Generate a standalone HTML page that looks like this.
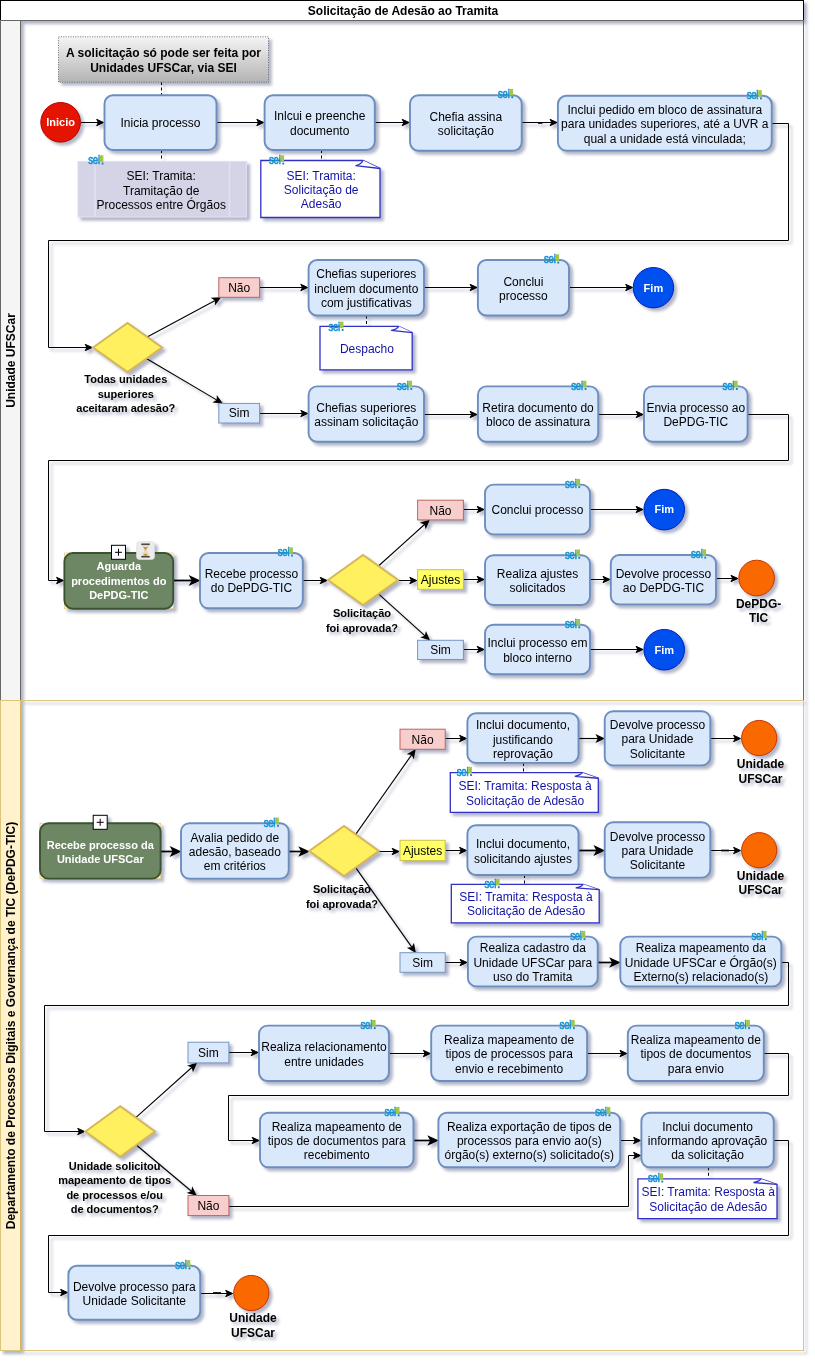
<!DOCTYPE html>
<html lang="pt-BR">
<head>
<meta charset="utf-8">
<title>Solicitação de Adesão ao Tramita</title>
<style>
html,body{margin:0;padding:0;background:#fff;}
body{width:815px;height:1362px;overflow:hidden;}
svg{display:block;font-family:'Liberation Sans', sans-serif;}
</style>
</head>
<body>
<svg width="815" height="1362" viewBox="0 0 815 1362">
<defs>
<filter id="ds" x="-5%" y="-5%" width="110%" height="110%" filterUnits="userSpaceOnUse" color-interpolation-filters="sRGB">
<feGaussianBlur in="SourceAlpha" stdDeviation="1.7" result="blur"/>
<feOffset in="blur" dx="3" dy="3" result="ob"/>
<feFlood flood-color="#3D4574" flood-opacity="0.4" result="oc"/>
<feComposite in="oc" in2="ob" operator="in" result="sh"/>
<feBlend in="SourceGraphic" in2="sh"/>
</filter>
<linearGradient id="gnote" x1="0" y1="0" x2="0" y2="1">
<stop offset="0" stop-color="#f5f5f5"/><stop offset="1" stop-color="#b3b3b3"/>
</linearGradient>
</defs>
<rect x="0" y="0" width="815" height="1362" fill="#fff"/>
<g filter="url(#ds)">
<rect x="0.5" y="0.5" width="803.0" height="20" fill="#fff" stroke="#000" stroke-width="1"/>
<text x="403" y="15.4" font-size="12px" font-weight="bold" text-anchor="middle" fill="#000">Solicitação de Adesão ao Tramita</text>
<rect x="0.5" y="20.5" width="20" height="680" fill="#f5f5f5" stroke="#666" stroke-width="1"/>
<rect x="0.5" y="20.5" width="803.0" height="680" fill="none" stroke="#666" stroke-width="1"/>
<text transform="translate(15.2,360.5) rotate(-90)" font-size="12px" font-weight="bold" text-anchor="middle" fill="#000">Unidade UFSCar</text>
<rect x="0.5" y="700.5" width="20" height="650" fill="#fff2cc" stroke="#d6b656" stroke-width="1"/>
<rect x="0.5" y="700.5" width="803.0" height="650" fill="none" stroke="#dcc47a" stroke-width="1"/>
<text transform="translate(15.2,1025.5) rotate(-90)" font-size="12px" font-weight="bold" text-anchor="middle" fill="#000">Departamento de Processos Digitais e Governança de TIC (DePDG-TIC)</text>
<path d="M81.00 122.50L99.50 122.50" fill="none" stroke="#000" stroke-width="1" stroke-miterlimit="10"/>
<path d="M103.60 122.50L96.70 119.35L98.42 122.50L96.70 125.65Z" fill="#000" stroke="#000" stroke-width="1" stroke-linejoin="miter"/>
<path d="M216.50 122.50L259.60 122.50" fill="none" stroke="#000" stroke-width="1" stroke-miterlimit="10"/>
<path d="M263.70 122.50L256.80 119.35L258.53 122.50L256.80 125.65Z" fill="#000" stroke="#000" stroke-width="1" stroke-linejoin="miter"/>
<path d="M374.80 122.50L405.00 122.50" fill="none" stroke="#000" stroke-width="1" stroke-miterlimit="10"/>
<path d="M409.10 122.50L402.20 119.35L403.93 122.50L402.20 125.65Z" fill="#000" stroke="#000" stroke-width="1" stroke-linejoin="miter"/>
<path d="M521.70 122.50L552.90 122.50" fill="none" stroke="#000" stroke-width="1" stroke-miterlimit="10"/>
<path d="M557.00 122.50L550.10 119.35L551.83 122.50L550.10 125.65Z" fill="#000" stroke="#000" stroke-width="1" stroke-linejoin="miter"/>
<path d="M538.00 123.00L542.50 123.00" fill="none" stroke="#000" stroke-width="1.6" stroke-miterlimit="10"/>
<path d="M771.70 123.50L788.50 123.50L788.50 240.50L48.50 240.50L48.50 347.50L88.00 347.50" fill="none" stroke="#000" stroke-width="1" stroke-miterlimit="10"/>
<path d="M92.10 347.50L85.20 344.35L86.92 347.50L85.20 350.65Z" fill="#000" stroke="#000" stroke-width="1" stroke-linejoin="miter"/>
<path d="M161.50 82.00L161.50 95.00" fill="none" stroke="#000" stroke-width="1" stroke-dasharray="3 2.5"/>
<path d="M161.50 150.00L161.50 162.00" fill="none" stroke="#000" stroke-width="1" stroke-dasharray="3 2.5"/>
<path d="M321.50 150.00L321.50 161.00" fill="none" stroke="#000" stroke-width="1" stroke-dasharray="3 2.5"/>
<path d="M147.14 336.95L216.55 299.67" fill="none" stroke="#000" stroke-width="1.12" stroke-miterlimit="10"/>
<path d="M220.07 297.78L212.50 298.27L215.51 300.23L215.48 303.82Z" fill="#000" stroke="#000" stroke-width="1.12" stroke-linejoin="miter"/>
<path d="M146.37 358.60L218.23 400.87" fill="none" stroke="#000" stroke-width="1.12" stroke-miterlimit="10"/>
<path d="M221.67 402.89L217.32 396.68L217.21 400.27L214.13 402.11Z" fill="#000" stroke="#000" stroke-width="1.12" stroke-linejoin="miter"/>
<path d="M259.60 287.50L303.60 287.50" fill="none" stroke="#000" stroke-width="1" stroke-miterlimit="10"/>
<path d="M307.70 287.50L300.80 284.35L302.53 287.50L300.80 290.65Z" fill="#000" stroke="#000" stroke-width="1" stroke-linejoin="miter"/>
<path d="M424.00 287.50L472.90 287.50" fill="none" stroke="#000" stroke-width="1" stroke-miterlimit="10"/>
<path d="M477.00 287.50L470.10 284.35L471.82 287.50L470.10 290.65Z" fill="#000" stroke="#000" stroke-width="1" stroke-linejoin="miter"/>
<path d="M569.00 287.50L628.50 287.50" fill="none" stroke="#000" stroke-width="1" stroke-miterlimit="10"/>
<path d="M632.60 287.50L625.70 284.35L627.43 287.50L625.70 290.65Z" fill="#000" stroke="#000" stroke-width="1" stroke-linejoin="miter"/>
<path d="M366.50 315.50L366.50 326.30" fill="none" stroke="#000" stroke-width="1" stroke-dasharray="3 2.5"/>
<path d="M259.60 413.50L303.60 413.50" fill="none" stroke="#000" stroke-width="1" stroke-miterlimit="10"/>
<path d="M307.70 413.50L300.80 410.35L302.53 413.50L300.80 416.65Z" fill="#000" stroke="#000" stroke-width="1" stroke-linejoin="miter"/>
<path d="M424.00 414.50L472.90 414.50" fill="none" stroke="#000" stroke-width="1" stroke-miterlimit="10"/>
<path d="M477.00 414.50L470.10 411.35L471.82 414.50L470.10 417.65Z" fill="#000" stroke="#000" stroke-width="1" stroke-linejoin="miter"/>
<path d="M598.20 414.50L639.00 414.50" fill="none" stroke="#000" stroke-width="1" stroke-miterlimit="10"/>
<path d="M643.10 414.50L636.20 411.35L637.93 414.50L636.20 417.65Z" fill="#000" stroke="#000" stroke-width="1" stroke-linejoin="miter"/>
<path d="M747.60 414.50L788.50 414.50L788.50 460.50L48.50 460.50L48.50 580.50L59.40 580.50" fill="none" stroke="#000" stroke-width="1" stroke-miterlimit="10"/>
<path d="M63.50 580.50L56.60 577.35L58.33 580.50L56.60 583.65Z" fill="#000" stroke="#000" stroke-width="1" stroke-linejoin="miter"/>
<path d="M173.50 580.50L195.00 580.50" fill="none" stroke="#000" stroke-width="1.8" stroke-miterlimit="10"/>
<path d="M198.38 580.50L190.79 577.03L192.69 580.50L190.79 583.97Z" fill="#000" stroke="#000" stroke-width="1.8" stroke-linejoin="miter"/>
<path d="M302.80 580.50L323.00 580.50" fill="none" stroke="#000" stroke-width="1" stroke-miterlimit="10"/>
<path d="M327.10 580.50L320.20 577.35L321.93 580.50L320.20 583.65Z" fill="#000" stroke="#000" stroke-width="1" stroke-linejoin="miter"/>
<path d="M378.46 566.04L425.88 523.25" fill="none" stroke="#000" stroke-width="1.12" stroke-miterlimit="10"/>
<path d="M428.84 520.58L421.61 522.86L425.00 524.04L425.83 527.54Z" fill="#000" stroke="#000" stroke-width="1.12" stroke-linejoin="miter"/>
<path d="M398.40 580.50L412.60 580.50" fill="none" stroke="#000" stroke-width="1" stroke-miterlimit="10"/>
<path d="M416.70 580.50L409.80 577.35L411.53 580.50L409.80 583.65Z" fill="#000" stroke="#000" stroke-width="1" stroke-linejoin="miter"/>
<path d="M378.47 593.95L426.14 636.95" fill="none" stroke="#000" stroke-width="1.12" stroke-miterlimit="10"/>
<path d="M429.11 639.62L426.09 632.66L425.26 636.16L421.87 637.34Z" fill="#000" stroke="#000" stroke-width="1.12" stroke-linejoin="miter"/>
<path d="M463.40 509.50L480.00 509.50" fill="none" stroke="#000" stroke-width="1" stroke-miterlimit="10"/>
<path d="M484.10 509.50L477.20 506.35L478.93 509.50L477.20 512.65Z" fill="#000" stroke="#000" stroke-width="1" stroke-linejoin="miter"/>
<path d="M463.40 579.50L480.00 579.50" fill="none" stroke="#000" stroke-width="1" stroke-miterlimit="10"/>
<path d="M484.10 579.50L477.20 576.35L478.93 579.50L477.20 582.65Z" fill="#000" stroke="#000" stroke-width="1" stroke-linejoin="miter"/>
<path d="M463.40 649.50L480.00 649.50" fill="none" stroke="#000" stroke-width="1" stroke-miterlimit="10"/>
<path d="M484.10 649.50L477.20 646.35L478.93 649.50L477.20 652.65Z" fill="#000" stroke="#000" stroke-width="1" stroke-linejoin="miter"/>
<path d="M590.00 509.50L638.90 509.50" fill="none" stroke="#000" stroke-width="1" stroke-miterlimit="10"/>
<path d="M643.00 509.50L636.10 506.35L637.83 509.50L636.10 512.65Z" fill="#000" stroke="#000" stroke-width="1" stroke-linejoin="miter"/>
<path d="M590.00 579.50L605.80 579.50" fill="none" stroke="#000" stroke-width="1" stroke-miterlimit="10"/>
<path d="M609.90 579.50L603.00 576.35L604.73 579.50L603.00 582.65Z" fill="#000" stroke="#000" stroke-width="1" stroke-linejoin="miter"/>
<path d="M590.00 649.50L638.90 649.50" fill="none" stroke="#000" stroke-width="1" stroke-miterlimit="10"/>
<path d="M643.00 649.50L636.10 646.35L637.83 649.50L636.10 652.65Z" fill="#000" stroke="#000" stroke-width="1" stroke-linejoin="miter"/>
<path d="M716.00 578.50L733.80 578.50" fill="none" stroke="#000" stroke-width="1" stroke-miterlimit="10"/>
<path d="M737.90 578.50L731.00 575.35L732.73 578.50L731.00 581.65Z" fill="#000" stroke="#000" stroke-width="1" stroke-linejoin="miter"/>
<path d="M161.00 851.50L176.00 851.50" fill="none" stroke="#000" stroke-width="1.8" stroke-miterlimit="10"/>
<path d="M179.38 851.50L171.79 848.03L173.69 851.50L171.79 854.97Z" fill="#000" stroke="#000" stroke-width="1.8" stroke-linejoin="miter"/>
<path d="M288.70 851.50L304.40 851.50" fill="none" stroke="#000" stroke-width="1.7" stroke-miterlimit="10"/>
<path d="M307.87 851.50L300.28 848.03L302.18 851.50L300.28 854.97Z" fill="#000" stroke="#000" stroke-width="1.7" stroke-linejoin="miter"/>
<path d="M355.68 834.40L412.65 753.39" fill="none" stroke="#000" stroke-width="1.12" stroke-miterlimit="10"/>
<path d="M414.95 750.12L408.41 753.96L411.97 754.36L413.56 757.58Z" fill="#000" stroke="#000" stroke-width="1.12" stroke-linejoin="miter"/>
<path d="M378.80 851.50L395.00 851.50" fill="none" stroke="#000" stroke-width="1" stroke-miterlimit="10"/>
<path d="M399.10 851.50L392.20 848.35L393.93 851.50L392.20 854.65Z" fill="#000" stroke="#000" stroke-width="1" stroke-linejoin="miter"/>
<path d="M355.69 867.59L412.81 948.61" fill="none" stroke="#000" stroke-width="1.12" stroke-miterlimit="10"/>
<path d="M415.11 951.88L413.71 944.42L412.13 947.65L408.56 948.05Z" fill="#000" stroke="#000" stroke-width="1.12" stroke-linejoin="miter"/>
<path d="M445.20 738.50L462.40 738.50" fill="none" stroke="#000" stroke-width="1" stroke-miterlimit="10"/>
<path d="M466.50 738.50L459.60 735.35L461.32 738.50L459.60 741.65Z" fill="#000" stroke="#000" stroke-width="1" stroke-linejoin="miter"/>
<path d="M578.50 738.50L599.70 738.50" fill="none" stroke="#000" stroke-width="1.15" stroke-miterlimit="10"/>
<path d="M603.67 738.50L596.77 735.35L598.49 738.50L596.77 741.65Z" fill="#000" stroke="#000" stroke-width="1.15" stroke-linejoin="miter"/>
<path d="M710.30 738.50L736.40 738.50" fill="none" stroke="#000" stroke-width="1" stroke-miterlimit="10"/>
<path d="M740.50 738.50L733.60 735.35L735.33 738.50L733.60 741.65Z" fill="#000" stroke="#000" stroke-width="1" stroke-linejoin="miter"/>
<path d="M523.50 762.90L523.50 772.70" fill="none" stroke="#000" stroke-width="1" stroke-dasharray="3 2.5"/>
<path d="M445.20 850.50L462.40 850.50" fill="none" stroke="#000" stroke-width="1" stroke-miterlimit="10"/>
<path d="M466.50 850.50L459.60 847.35L461.32 850.50L459.60 853.65Z" fill="#000" stroke="#000" stroke-width="1" stroke-linejoin="miter"/>
<path d="M578.50 850.50L599.70 850.50" fill="none" stroke="#000" stroke-width="1.8" stroke-miterlimit="10"/>
<path d="M603.08 850.50L595.49 847.03L597.39 850.50L595.49 853.97Z" fill="#000" stroke="#000" stroke-width="1.8" stroke-linejoin="miter"/>
<path d="M710.30 850.50L736.40 850.50" fill="none" stroke="#000" stroke-width="1" stroke-miterlimit="10"/>
<path d="M740.50 850.50L733.60 847.35L735.33 850.50L733.60 853.65Z" fill="#000" stroke="#000" stroke-width="1" stroke-linejoin="miter"/>
<path d="M721.00 850.50L729.00 850.50" fill="none" stroke="#000" stroke-width="1.7" stroke-miterlimit="10"/>
<path d="M524.50 875.00L524.50 884.30" fill="none" stroke="#000" stroke-width="1" stroke-dasharray="3 2.5"/>
<path d="M445.20 962.50L462.90 962.50" fill="none" stroke="#000" stroke-width="1" stroke-miterlimit="10"/>
<path d="M467.00 962.50L460.10 959.35L461.82 962.50L460.10 965.65Z" fill="#000" stroke="#000" stroke-width="1" stroke-linejoin="miter"/>
<path d="M597.70 962.50L615.30 962.50" fill="none" stroke="#000" stroke-width="1.7" stroke-miterlimit="10"/>
<path d="M618.77 962.50L611.18 959.03L613.08 962.50L611.18 965.97Z" fill="#000" stroke="#000" stroke-width="1.7" stroke-linejoin="miter"/>
<path d="M781.30 962.50L788.50 962.50L788.50 1005.50L44.50 1005.50L44.50 1131.50L80.50 1131.50" fill="none" stroke="#000" stroke-width="1" stroke-miterlimit="10"/>
<path d="M84.60 1131.50L77.70 1128.35L79.42 1131.50L77.70 1134.65Z" fill="#000" stroke="#000" stroke-width="1" stroke-linejoin="miter"/>
<path d="M135.76 1117.58L193.15 1066.23" fill="none" stroke="#000" stroke-width="1.12" stroke-miterlimit="10"/>
<path d="M196.13 1063.57L188.89 1065.82L192.27 1067.02L193.09 1070.52Z" fill="#000" stroke="#000" stroke-width="1.12" stroke-linejoin="miter"/>
<path d="M136.31 1145.02L192.64 1192.29" fill="none" stroke="#000" stroke-width="1.12" stroke-miterlimit="10"/>
<path d="M195.70 1194.85L192.44 1188.00L191.74 1191.53L188.39 1192.83Z" fill="#000" stroke="#000" stroke-width="1.12" stroke-linejoin="miter"/>
<path d="M228.90 1052.50L254.00 1052.50" fill="none" stroke="#000" stroke-width="1" stroke-miterlimit="10"/>
<path d="M258.10 1052.50L251.20 1049.35L252.93 1052.50L251.20 1055.65Z" fill="#000" stroke="#000" stroke-width="1" stroke-linejoin="miter"/>
<path d="M388.90 1053.50L426.20 1053.50" fill="none" stroke="#000" stroke-width="1" stroke-miterlimit="10"/>
<path d="M430.30 1053.50L423.40 1050.35L425.12 1053.50L423.40 1056.65Z" fill="#000" stroke="#000" stroke-width="1" stroke-linejoin="miter"/>
<path d="M587.10 1053.50L622.80 1053.50" fill="none" stroke="#000" stroke-width="1" stroke-miterlimit="10"/>
<path d="M626.90 1053.50L620.00 1050.35L621.73 1053.50L620.00 1056.65Z" fill="#000" stroke="#000" stroke-width="1" stroke-linejoin="miter"/>
<path d="M763.80 1053.50L788.50 1053.50L788.50 1095.50L228.50 1095.50L228.50 1140.50L255.00 1140.50" fill="none" stroke="#000" stroke-width="1" stroke-miterlimit="10"/>
<path d="M259.10 1140.50L252.20 1137.35L253.93 1140.50L252.20 1143.65Z" fill="#000" stroke="#000" stroke-width="1" stroke-linejoin="miter"/>
<path d="M413.50 1140.50L433.40 1140.50" fill="none" stroke="#000" stroke-width="1.7" stroke-miterlimit="10"/>
<path d="M436.87 1140.50L429.28 1137.04L431.18 1140.50L429.28 1143.96Z" fill="#000" stroke="#000" stroke-width="1.7" stroke-linejoin="miter"/>
<path d="M619.80 1140.50L636.40 1140.50" fill="none" stroke="#000" stroke-width="1" stroke-miterlimit="10"/>
<path d="M640.50 1140.50L633.60 1137.35L635.33 1140.50L633.60 1143.65Z" fill="#000" stroke="#000" stroke-width="1" stroke-linejoin="miter"/>
<path d="M228.90 1206.50L628.50 1206.50L628.50 1155.50L636.40 1155.50" fill="none" stroke="#000" stroke-width="1" stroke-miterlimit="10"/>
<path d="M640.50 1155.50L633.60 1152.35L635.33 1155.50L633.60 1158.65Z" fill="#000" stroke="#000" stroke-width="1" stroke-linejoin="miter"/>
<path d="M773.70 1140.50L788.50 1140.50L788.50 1235.50L48.50 1235.50L48.50 1292.50L63.40 1292.50" fill="none" stroke="#000" stroke-width="1" stroke-miterlimit="10"/>
<path d="M67.50 1292.50L60.60 1289.35L62.33 1292.50L60.60 1295.65Z" fill="#000" stroke="#000" stroke-width="1" stroke-linejoin="miter"/>
<path d="M708.50 1167.30L708.50 1178.90" fill="none" stroke="#000" stroke-width="1" stroke-dasharray="3 2.5"/>
<path d="M200.20 1293.50L228.50 1293.50" fill="none" stroke="#000" stroke-width="1" stroke-miterlimit="10"/>
<path d="M232.60 1293.50L225.70 1290.35L227.42 1293.50L225.70 1296.65Z" fill="#000" stroke="#000" stroke-width="1" stroke-linejoin="miter"/>
<path d="M213.00 1293.00L221.00 1293.00" fill="none" stroke="#000" stroke-width="1.7" stroke-miterlimit="10"/>
<rect x="58.5" y="36.8" width="210" height="45.4" fill="url(#gnote)" stroke="#707070" stroke-width="1" stroke-dasharray="1 1.4"/>
<text x="163.50" y="57.36" font-size="12px" font-weight="bold" fill="#000" text-anchor="middle">A solicitação só pode ser feita por</text>
<text x="163.50" y="71.76" font-size="12px" font-weight="bold" fill="#000" text-anchor="middle">Unidades UFSCar, via SEI</text>
<circle cx="60.60" cy="122.30" r="19.80" fill="#e51400" stroke="#b20000" stroke-width="1"/>
<text x="60.60" y="126.11" font-size="11px" font-weight="bold" fill="#fff" text-anchor="middle">Inicio</text>
<g opacity="1"><rect x="78" y="161.5" width="168.5" height="55.5" fill="#d5d3e6" stroke="#e0def0" stroke-width="1.2"/><path d="M95 161.5V217M229.5 161.5V217" stroke="#e2e0f1" stroke-width="1.6" fill="none"/></g>
<text x="161.20" y="180.16" font-size="12px" fill="#000" text-anchor="middle">SEI: Tramita:</text>
<text x="161.20" y="194.56" font-size="12px" fill="#000" text-anchor="middle">Tramitação de</text>
<text x="161.20" y="208.96" font-size="12px" fill="#000" text-anchor="middle">Processos entre Órgãos</text>
<path d="M260.80 160.50H363.00L380.00 168.50V217.50H260.80Z" fill="#fff" stroke="#3030c6" stroke-width="1.3" stroke-linejoin="miter"/>
<path d="M363.00 160.50Q361.00 164.50 355.50 165.70L380.00 168.50" fill="#fff" stroke="#3030c6" stroke-width="1.3" stroke-linejoin="miter"/>
<text x="321.20" y="179.66" font-size="12px" fill="#1212a6" text-anchor="middle">SEI: Tramita:</text>
<text x="321.20" y="194.06" font-size="12px" fill="#1212a6" text-anchor="middle">Solicitação de</text>
<text x="321.20" y="208.46" font-size="12px" fill="#1212a6" text-anchor="middle">Adesão</text>
<rect x="104.50" y="95.30" width="112.00" height="54.70" rx="8.5" ry="8.5" fill="#dae8fc" stroke="#6c8ebf" stroke-width="1.9"/>
<text x="160.50" y="127.41" font-size="12px" fill="#000" text-anchor="middle">Inicia processo</text>
<rect x="264.60" y="95.30" width="110.20" height="54.70" rx="8.5" ry="8.5" fill="#dae8fc" stroke="#6c8ebf" stroke-width="1.9"/>
<text x="319.70" y="120.21" font-size="12px" fill="#000" text-anchor="middle">Inlcui e preenche</text>
<text x="319.70" y="134.61" font-size="12px" fill="#000" text-anchor="middle">documento</text>
<rect x="410.00" y="95.30" width="111.70" height="55.40" rx="8.5" ry="8.5" fill="#dae8fc" stroke="#6c8ebf" stroke-width="1.9"/>
<text x="465.85" y="120.86" font-size="12px" fill="#000" text-anchor="middle">Chefia assina</text>
<text x="465.85" y="135.26" font-size="12px" fill="#000" text-anchor="middle">solicitação</text>
<rect x="557.90" y="95.80" width="213.80" height="54.80" rx="8.5" ry="8.5" fill="#dae8fc" stroke="#6c8ebf" stroke-width="1.9"/>
<text x="664.80" y="113.86" font-size="12px" fill="#000" text-anchor="middle">Inclui pedido em bloco de assinatura</text>
<text x="664.80" y="128.26" font-size="12px" fill="#000" text-anchor="middle">para unidades superiores, até a UVR a</text>
<text x="664.80" y="142.66" font-size="12px" fill="#000" text-anchor="middle">qual a unidade está vinculada;</text>
<path d="M93.00 347.50L127.50 323.00L162.00 347.50L127.50 372.00Z" fill="#fff060" stroke="#d6b656" stroke-width="2" stroke-linejoin="miter"/>
<text x="125.80" y="383.41" font-size="11px" font-weight="bold" fill="#000" text-anchor="middle">Todas unidades</text>
<text x="125.80" y="397.81" font-size="11px" font-weight="bold" fill="#000" text-anchor="middle">superiores</text>
<text x="125.80" y="412.21" font-size="11px" font-weight="bold" fill="#000" text-anchor="middle">aceitaram adesão?</text>
<rect x="218.80" y="277.70" width="40.80" height="19.60" fill="#f8cecc" stroke="#be6561" stroke-width="1"/>
<text x="239.20" y="291.76" font-size="12px" fill="#000" text-anchor="middle">Não</text>
<rect x="218.80" y="403.40" width="40.80" height="19.60" fill="#dae8fc" stroke="#7596c4" stroke-width="1"/>
<text x="239.20" y="417.46" font-size="12px" fill="#000" text-anchor="middle">Sim</text>
<rect x="308.60" y="260.00" width="115.40" height="55.50" rx="8.5" ry="8.5" fill="#dae8fc" stroke="#6c8ebf" stroke-width="1.9"/>
<text x="366.30" y="278.41" font-size="12px" fill="#000" text-anchor="middle">Chefias superiores</text>
<text x="366.30" y="292.81" font-size="12px" fill="#000" text-anchor="middle">incluem documento</text>
<text x="366.30" y="307.21" font-size="12px" fill="#000" text-anchor="middle">com justificativas</text>
<path d="M320.00 326.30H398.70L412.20 332.60V369.80H320.00Z" fill="#fff" stroke="#3030c6" stroke-width="1.3" stroke-linejoin="miter"/>
<path d="M398.70 326.30Q396.70 329.45 391.20 330.40L412.20 332.60" fill="#fff" stroke="#3030c6" stroke-width="1.3" stroke-linejoin="miter"/>
<text x="366.90" y="352.71" font-size="12px" fill="#1212a6" text-anchor="middle">Despacho</text>
<rect x="477.90" y="260.00" width="91.10" height="55.50" rx="8.5" ry="8.5" fill="#dae8fc" stroke="#6c8ebf" stroke-width="1.9"/>
<text x="523.45" y="285.61" font-size="12px" fill="#000" text-anchor="middle">Conclui</text>
<text x="523.45" y="300.01" font-size="12px" fill="#000" text-anchor="middle">processo</text>
<circle cx="653.40" cy="287.70" r="20.20" fill="#0050ef" stroke="#001dbc" stroke-width="1"/>
<text x="653.40" y="291.51" font-size="11px" font-weight="bold" fill="#fff" text-anchor="middle">Fim</text>
<rect x="308.60" y="386.40" width="115.40" height="55.30" rx="8.5" ry="8.5" fill="#dae8fc" stroke="#6c8ebf" stroke-width="1.9"/>
<text x="366.30" y="411.91" font-size="12px" fill="#000" text-anchor="middle">Chefias superiores</text>
<text x="366.30" y="426.31" font-size="12px" fill="#000" text-anchor="middle">assinam solicitação</text>
<rect x="477.90" y="386.40" width="120.30" height="55.30" rx="8.5" ry="8.5" fill="#dae8fc" stroke="#6c8ebf" stroke-width="1.9"/>
<text x="538.05" y="411.91" font-size="12px" fill="#000" text-anchor="middle">Retira documento do</text>
<text x="538.05" y="426.31" font-size="12px" fill="#000" text-anchor="middle">bloco de assinatura</text>
<rect x="644.00" y="386.40" width="103.60" height="55.30" rx="8.5" ry="8.5" fill="#dae8fc" stroke="#6c8ebf" stroke-width="1.9"/>
<text x="695.80" y="411.91" font-size="12px" fill="#000" text-anchor="middle">Envia processo ao</text>
<text x="695.80" y="426.31" font-size="12px" fill="#000" text-anchor="middle">DePDG-TIC</text>
<rect x="64.40" y="553.00" width="108.80" height="55.70" fill="#fff9dd" stroke="#e3cf8c" stroke-width="0.8"/>
<rect x="64.40" y="553.00" width="108.80" height="55.70" rx="8.5" ry="8.5" fill="#6d8764" stroke="#3a5431" stroke-width="1.9"/>
<text x="118.80" y="570.16" font-size="11px" font-weight="bold" fill="#fff" text-anchor="middle">Aguarda</text>
<text x="118.80" y="584.56" font-size="11px" font-weight="bold" fill="#fff" text-anchor="middle">procedimentos do</text>
<text x="118.80" y="598.96" font-size="11px" font-weight="bold" fill="#fff" text-anchor="middle">DePDG-TIC</text>
<rect x="111.50" y="545.30" width="14" height="14" fill="#fff" stroke="#000" stroke-width="1"/>
<path d="M115.00 552.30H122.00M118.50 548.80V555.80" stroke="#000" stroke-width="1" fill="none"/>
<g transform="translate(136.50,541.50)"><rect x="0" y="0" width="18" height="18" rx="3" fill="#ebebeb" stroke="#e2e2e2" stroke-width="0.6"/><path d="M4.8 2.7H13.2M4.8 15.3H13.2" stroke="#3c3c3c" stroke-width="1.6" fill="none"/><path d="M6 3.6H12L9.5 9L12 14.4H6L8.5 9Z" fill="#f1e4cf" stroke="#c9a070" stroke-width="0.4"/><path d="M7 5.6H11L9 8.8Z" fill="#d08a2a"/><path d="M6.6 14.3L9 11.6L11.4 14.3Z" fill="#d08a2a"/></g>
<rect x="200.00" y="553.00" width="102.80" height="55.30" rx="8.5" ry="8.5" fill="#dae8fc" stroke="#6c8ebf" stroke-width="1.9"/>
<text x="251.40" y="577.81" font-size="12px" fill="#000" text-anchor="middle">Recebe processo</text>
<text x="251.40" y="592.21" font-size="12px" fill="#000" text-anchor="middle">do DePDG-TIC</text>
<path d="M328.00 580.00L363.00 555.00L398.00 580.00L363.00 605.00Z" fill="#fff060" stroke="#d6b656" stroke-width="2" stroke-linejoin="miter"/>
<text x="362.00" y="617.11" font-size="11px" font-weight="bold" fill="#000" text-anchor="middle">Solicitação</text>
<text x="362.00" y="631.51" font-size="11px" font-weight="bold" fill="#000" text-anchor="middle">foi aprovada?</text>
<rect x="417.60" y="500.20" width="45.80" height="19.70" fill="#f8cecc" stroke="#be6561" stroke-width="1"/>
<text x="440.50" y="515.21" font-size="12px" fill="#000" text-anchor="middle">Não</text>
<rect x="417.60" y="569.70" width="45.80" height="19.60" fill="#ffff66" stroke="#cfc04f" stroke-width="1"/>
<text x="440.50" y="583.76" font-size="12px" fill="#000" text-anchor="middle">Ajustes</text>
<rect x="417.60" y="640.30" width="45.80" height="19.20" fill="#dae8fc" stroke="#7596c4" stroke-width="1"/>
<text x="440.50" y="654.16" font-size="12px" fill="#000" text-anchor="middle">Sim</text>
<rect x="485.00" y="484.60" width="105.00" height="49.80" rx="8.5" ry="8.5" fill="#dae8fc" stroke="#6c8ebf" stroke-width="1.9"/>
<text x="537.50" y="513.76" font-size="12px" fill="#000" text-anchor="middle">Conclui processo</text>
<rect x="485.00" y="555.20" width="105.00" height="49.80" rx="8.5" ry="8.5" fill="#dae8fc" stroke="#6c8ebf" stroke-width="1.9"/>
<text x="537.50" y="577.96" font-size="12px" fill="#000" text-anchor="middle">Realiza ajustes</text>
<text x="537.50" y="592.36" font-size="12px" fill="#000" text-anchor="middle">solicitados</text>
<rect x="485.00" y="624.70" width="105.00" height="49.50" rx="8.5" ry="8.5" fill="#dae8fc" stroke="#6c8ebf" stroke-width="1.9"/>
<text x="537.50" y="647.31" font-size="12px" fill="#000" text-anchor="middle">Inclui processo em</text>
<text x="537.50" y="661.71" font-size="12px" fill="#000" text-anchor="middle">bloco interno</text>
<rect x="610.80" y="555.00" width="105.20" height="49.40" rx="8.5" ry="8.5" fill="#dae8fc" stroke="#6c8ebf" stroke-width="1.9"/>
<text x="663.40" y="577.56" font-size="12px" fill="#000" text-anchor="middle">Devolve processo</text>
<text x="663.40" y="591.96" font-size="12px" fill="#000" text-anchor="middle">ao DePDG-TIC</text>
<circle cx="664.20" cy="509.60" r="20.30" fill="#0050ef" stroke="#001dbc" stroke-width="1"/>
<text x="664.20" y="513.41" font-size="11px" font-weight="bold" fill="#fff" text-anchor="middle">Fim</text>
<circle cx="664.20" cy="649.70" r="20.30" fill="#0050ef" stroke="#001dbc" stroke-width="1"/>
<text x="664.20" y="653.51" font-size="11px" font-weight="bold" fill="#fff" text-anchor="middle">Fim</text>
<circle cx="756.60" cy="578.00" r="17.80" fill="#fa6800" stroke="#c73500" stroke-width="1"/>
<text x="758.60" y="608.06" font-size="12px" font-weight="bold" fill="#000" text-anchor="middle">DePDG-</text>
<text x="758.60" y="622.46" font-size="12px" font-weight="bold" fill="#000" text-anchor="middle">TIC</text>
<rect x="40.00" y="823.30" width="120.60" height="55.30" fill="#fff9dd" stroke="#e3cf8c" stroke-width="0.8"/>
<rect x="40.00" y="823.30" width="120.60" height="55.30" rx="8.5" ry="8.5" fill="#6d8764" stroke="#3a5431" stroke-width="1.9"/>
<text x="100.30" y="849.06" font-size="11px" font-weight="bold" fill="#fff" text-anchor="middle">Recebe processo da</text>
<text x="100.30" y="863.46" font-size="11px" font-weight="bold" fill="#fff" text-anchor="middle">Unidade UFSCar</text>
<rect x="93.20" y="815.30" width="14" height="14" fill="#fff" stroke="#000" stroke-width="1"/>
<path d="M96.70 822.30H103.70M100.20 818.80V825.80" stroke="#000" stroke-width="1" fill="none"/>
<rect x="181.00" y="823.20" width="107.70" height="55.40" rx="8.5" ry="8.5" fill="#dae8fc" stroke="#6c8ebf" stroke-width="1.9"/>
<text x="234.85" y="841.56" font-size="12px" fill="#000" text-anchor="middle">Avalia pedido de</text>
<text x="234.85" y="855.96" font-size="12px" fill="#000" text-anchor="middle">adesão, baseado</text>
<text x="234.85" y="870.36" font-size="12px" fill="#000" text-anchor="middle">em critérios</text>
<path d="M309.25 851.00L344.00 826.00L378.75 851.00L344.00 876.00Z" fill="#fff060" stroke="#d6b656" stroke-width="2" stroke-linejoin="miter"/>
<text x="342.00" y="893.21" font-size="11px" font-weight="bold" fill="#000" text-anchor="middle">Solicitação</text>
<text x="342.00" y="907.61" font-size="11px" font-weight="bold" fill="#000" text-anchor="middle">foi aprovada?</text>
<rect x="400.00" y="729.20" width="45.20" height="20.10" fill="#f8cecc" stroke="#be6561" stroke-width="1"/>
<text x="422.60" y="744.31" font-size="12px" fill="#000" text-anchor="middle">Não</text>
<rect x="400.00" y="840.30" width="45.20" height="20.20" fill="#ffff66" stroke="#cfc04f" stroke-width="1"/>
<text x="422.60" y="855.46" font-size="12px" fill="#000" text-anchor="middle">Ajustes</text>
<rect x="400.00" y="952.70" width="45.20" height="19.60" fill="#dae8fc" stroke="#7596c4" stroke-width="1"/>
<text x="422.60" y="966.76" font-size="12px" fill="#000" text-anchor="middle">Sim</text>
<rect x="467.40" y="713.30" width="111.10" height="49.60" rx="8.5" ry="8.5" fill="#dae8fc" stroke="#6c8ebf" stroke-width="1.9"/>
<text x="522.95" y="729.26" font-size="12px" fill="#000" text-anchor="middle">Inclui documento,</text>
<text x="522.95" y="743.66" font-size="12px" fill="#000" text-anchor="middle">justificando</text>
<text x="522.95" y="758.06" font-size="12px" fill="#000" text-anchor="middle">reprovação</text>
<rect x="604.70" y="711.20" width="105.60" height="54.20" rx="8.5" ry="8.5" fill="#dae8fc" stroke="#6c8ebf" stroke-width="1.9"/>
<text x="657.50" y="728.96" font-size="12px" fill="#000" text-anchor="middle">Devolve processo</text>
<text x="657.50" y="743.36" font-size="12px" fill="#000" text-anchor="middle">para Unidade</text>
<text x="657.50" y="757.76" font-size="12px" fill="#000" text-anchor="middle">Solicitante</text>
<circle cx="759.20" cy="738.00" r="17.60" fill="#fa6800" stroke="#c73500" stroke-width="1"/>
<text x="760.50" y="768.16" font-size="12px" font-weight="bold" fill="#000" text-anchor="middle">Unidade</text>
<text x="760.50" y="782.56" font-size="12px" font-weight="bold" fill="#000" text-anchor="middle">UFSCar</text>
<path d="M450.30 772.70H582.30L598.30 778.26V812.40H450.30Z" fill="#fff" stroke="#3030c6" stroke-width="1.3" stroke-linejoin="miter"/>
<path d="M582.30 772.70Q580.30 775.48 574.80 776.31L598.30 778.26" fill="#fff" stroke="#3030c6" stroke-width="1.3" stroke-linejoin="miter"/>
<text x="525.10" y="790.41" font-size="12px" fill="#1212a6" text-anchor="middle">SEI: Tramita: Resposta à</text>
<text x="525.10" y="804.81" font-size="12px" fill="#1212a6" text-anchor="middle">Solicitação de Adesão</text>
<rect x="467.40" y="825.30" width="111.10" height="49.70" rx="8.5" ry="8.5" fill="#dae8fc" stroke="#6c8ebf" stroke-width="1.9"/>
<text x="522.95" y="848.31" font-size="12px" fill="#000" text-anchor="middle">Inclui documento,</text>
<text x="522.95" y="862.71" font-size="12px" fill="#000" text-anchor="middle">solicitando ajustes</text>
<rect x="604.70" y="822.20" width="105.60" height="55.40" rx="8.5" ry="8.5" fill="#dae8fc" stroke="#6c8ebf" stroke-width="1.9"/>
<text x="657.50" y="840.56" font-size="12px" fill="#000" text-anchor="middle">Devolve processo</text>
<text x="657.50" y="854.96" font-size="12px" fill="#000" text-anchor="middle">para Unidade</text>
<text x="657.50" y="869.36" font-size="12px" fill="#000" text-anchor="middle">Solicitante</text>
<circle cx="759.20" cy="850.20" r="17.60" fill="#fa6800" stroke="#c73500" stroke-width="1"/>
<text x="760.50" y="879.86" font-size="12px" font-weight="bold" fill="#000" text-anchor="middle">Unidade</text>
<text x="760.50" y="894.26" font-size="12px" font-weight="bold" fill="#000" text-anchor="middle">UFSCar</text>
<path d="M451.30 884.30H583.20L599.20 889.69V922.80H451.30Z" fill="#fff" stroke="#3030c6" stroke-width="1.3" stroke-linejoin="miter"/>
<path d="M583.20 884.30Q581.20 887.00 575.70 887.80L599.20 889.69" fill="#fff" stroke="#3030c6" stroke-width="1.3" stroke-linejoin="miter"/>
<text x="526.05" y="900.61" font-size="12px" fill="#1212a6" text-anchor="middle">SEI: Tramita: Resposta à</text>
<text x="526.05" y="915.01" font-size="12px" fill="#1212a6" text-anchor="middle">Solicitação de Adesão</text>
<rect x="467.90" y="936.60" width="129.80" height="49.80" rx="8.5" ry="8.5" fill="#dae8fc" stroke="#6c8ebf" stroke-width="1.9"/>
<text x="532.80" y="952.16" font-size="12px" fill="#000" text-anchor="middle">Realiza cadastro da</text>
<text x="532.80" y="966.56" font-size="12px" fill="#000" text-anchor="middle">Unidade UFSCar para</text>
<text x="532.80" y="980.96" font-size="12px" fill="#000" text-anchor="middle">uso do Tramita</text>
<rect x="620.30" y="936.60" width="161.00" height="49.80" rx="8.5" ry="8.5" fill="#dae8fc" stroke="#6c8ebf" stroke-width="1.9"/>
<text x="700.80" y="952.16" font-size="12px" fill="#000" text-anchor="middle">Realiza mapeamento da</text>
<text x="700.80" y="966.56" font-size="12px" fill="#000" text-anchor="middle">Unidade UFSCar e Órgão(s)</text>
<text x="700.80" y="980.96" font-size="12px" fill="#000" text-anchor="middle">Externo(s) relacionado(s)</text>
<rect x="188.00" y="1042.20" width="40.90" height="20.70" fill="#dae8fc" stroke="#7596c4" stroke-width="1"/>
<text x="208.45" y="1056.81" font-size="12px" fill="#000" text-anchor="middle">Sim</text>
<rect x="259.00" y="1025.60" width="129.90" height="55.40" rx="8.5" ry="8.5" fill="#dae8fc" stroke="#6c8ebf" stroke-width="1.9"/>
<text x="323.95" y="1051.16" font-size="12px" fill="#000" text-anchor="middle">Realiza relacionamento</text>
<text x="323.95" y="1065.56" font-size="12px" fill="#000" text-anchor="middle">entre unidades</text>
<rect x="431.20" y="1025.60" width="155.90" height="55.40" rx="8.5" ry="8.5" fill="#dae8fc" stroke="#6c8ebf" stroke-width="1.9"/>
<text x="509.15" y="1043.96" font-size="12px" fill="#000" text-anchor="middle">Realiza mapeamento de</text>
<text x="509.15" y="1058.36" font-size="12px" fill="#000" text-anchor="middle">tipos de processos para</text>
<text x="509.15" y="1072.76" font-size="12px" fill="#000" text-anchor="middle">envio e recebimento</text>
<rect x="627.80" y="1025.60" width="136.00" height="55.40" rx="8.5" ry="8.5" fill="#dae8fc" stroke="#6c8ebf" stroke-width="1.9"/>
<text x="695.80" y="1043.96" font-size="12px" fill="#000" text-anchor="middle">Realiza mapeamento de</text>
<text x="695.80" y="1058.36" font-size="12px" fill="#000" text-anchor="middle">tipos de documentos</text>
<text x="695.80" y="1072.76" font-size="12px" fill="#000" text-anchor="middle">para envio</text>
<path d="M85.45 1131.50L120.20 1106.30L154.95 1131.50L120.20 1156.70Z" fill="#fff060" stroke="#d6b656" stroke-width="2" stroke-linejoin="miter"/>
<text x="114.70" y="1169.91" font-size="11px" font-weight="bold" fill="#000" text-anchor="middle">Unidade solicitou</text>
<text x="114.70" y="1184.31" font-size="11px" font-weight="bold" fill="#000" text-anchor="middle">mapeamento de tipos</text>
<text x="114.70" y="1198.71" font-size="11px" font-weight="bold" fill="#000" text-anchor="middle">de processos e/ou</text>
<text x="114.70" y="1213.11" font-size="11px" font-weight="bold" fill="#000" text-anchor="middle">de documentos?</text>
<rect x="260.00" y="1112.70" width="153.50" height="54.60" rx="8.5" ry="8.5" fill="#dae8fc" stroke="#6c8ebf" stroke-width="1.9"/>
<text x="336.75" y="1130.66" font-size="12px" fill="#000" text-anchor="middle">Realiza mapeamento de</text>
<text x="336.75" y="1145.06" font-size="12px" fill="#000" text-anchor="middle">tipos de documentos para</text>
<text x="336.75" y="1159.46" font-size="12px" fill="#000" text-anchor="middle">recebimento</text>
<rect x="438.40" y="1112.70" width="181.80" height="54.60" rx="8.5" ry="8.5" fill="#dae8fc" stroke="#6c8ebf" stroke-width="1.9"/>
<text x="529.30" y="1130.66" font-size="12px" fill="#000" text-anchor="middle">Realiza exportação de tipos de</text>
<text x="529.30" y="1145.06" font-size="12px" fill="#000" text-anchor="middle">processos para envio ao(s)</text>
<text x="529.30" y="1159.46" font-size="12px" fill="#000" text-anchor="middle">órgão(s) externo(s) solicitado(s)</text>
<rect x="641.40" y="1112.70" width="132.30" height="54.60" rx="8.5" ry="8.5" fill="#dae8fc" stroke="#6c8ebf" stroke-width="1.9"/>
<text x="707.55" y="1130.66" font-size="12px" fill="#000" text-anchor="middle">Inclui documento</text>
<text x="707.55" y="1145.06" font-size="12px" fill="#000" text-anchor="middle">informando aprovação</text>
<text x="707.55" y="1159.46" font-size="12px" fill="#000" text-anchor="middle">da solicitação</text>
<rect x="188.00" y="1195.50" width="40.90" height="20.10" fill="#f8cecc" stroke="#be6561" stroke-width="1"/>
<text x="208.45" y="1209.81" font-size="12px" fill="#000" text-anchor="middle">Não</text>
<path d="M637.90 1178.90H761.00L777.00 1184.46V1218.60H637.90Z" fill="#fff" stroke="#3030c6" stroke-width="1.3" stroke-linejoin="miter"/>
<path d="M761.00 1178.90Q759.00 1181.68 753.50 1182.51L777.00 1184.46" fill="#fff" stroke="#3030c6" stroke-width="1.3" stroke-linejoin="miter"/>
<text x="708.25" y="1196.11" font-size="12px" fill="#1212a6" text-anchor="middle">SEI: Tramita: Resposta à</text>
<text x="708.25" y="1210.51" font-size="12px" fill="#1212a6" text-anchor="middle">Solicitação de Adesão</text>
<rect x="68.40" y="1265.80" width="131.80" height="53.90" rx="8.5" ry="8.5" fill="#dae8fc" stroke="#6c8ebf" stroke-width="1.9"/>
<text x="134.30" y="1290.91" font-size="12px" fill="#000" text-anchor="middle">Devolve processo para</text>
<text x="134.30" y="1305.31" font-size="12px" fill="#000" text-anchor="middle">Unidade Solicitante</text>
<circle cx="251.30" cy="1293.00" r="17.60" fill="#fa6800" stroke="#c73500" stroke-width="1"/>
<text x="253.00" y="1322.46" font-size="12px" font-weight="bold" fill="#000" text-anchor="middle">Unidade</text>
<text x="253.00" y="1336.86" font-size="12px" font-weight="bold" fill="#000" text-anchor="middle">UFSCar</text>
</g>
<g>
<g transform="translate(88.30,155.60) scale(0.92)"><text x="0" y="9.6" font-size="13.5px" fill="#1893d2" transform="scale(0.78,1)" letter-spacing="-0.4" stroke="#1893d2" stroke-width="0.7">sei</text><rect x="12.4" y="-0.3" width="4" height="7.1" fill="#a3c644"/><rect x="14.5" y="7.6" width="2" height="2.1" fill="#1b7fc4"/></g>
<g transform="translate(269.00,155.60) scale(0.92)"><text x="0" y="9.6" font-size="13.5px" fill="#1893d2" transform="scale(0.78,1)" letter-spacing="-0.4" stroke="#1893d2" stroke-width="0.7">sei</text><rect x="12.4" y="-0.3" width="4" height="7.1" fill="#a3c644"/><rect x="14.5" y="7.6" width="2" height="2.1" fill="#1b7fc4"/></g>
<g transform="translate(498.00,89.20) scale(0.92)"><text x="0" y="9.6" font-size="13.5px" fill="#1893d2" transform="scale(0.78,1)" letter-spacing="-0.4" stroke="#1893d2" stroke-width="0.7">sei</text><rect x="12.4" y="-0.3" width="4" height="7.1" fill="#a3c644"/><rect x="14.5" y="7.6" width="2" height="2.1" fill="#1b7fc4"/></g>
<g transform="translate(746.70,90.40) scale(0.92)"><text x="0" y="9.6" font-size="13.5px" fill="#1893d2" transform="scale(0.78,1)" letter-spacing="-0.4" stroke="#1893d2" stroke-width="0.7">sei</text><rect x="12.4" y="-0.3" width="4" height="7.1" fill="#a3c644"/><rect x="14.5" y="7.6" width="2" height="2.1" fill="#1b7fc4"/></g>
<g transform="translate(328.40,321.90) scale(0.92)"><text x="0" y="9.6" font-size="13.5px" fill="#1893d2" transform="scale(0.78,1)" letter-spacing="-0.4" stroke="#1893d2" stroke-width="0.7">sei</text><rect x="12.4" y="-0.3" width="4" height="7.1" fill="#a3c644"/><rect x="14.5" y="7.6" width="2" height="2.1" fill="#1b7fc4"/></g>
<g transform="translate(544.00,254.60) scale(0.92)"><text x="0" y="9.6" font-size="13.5px" fill="#1893d2" transform="scale(0.78,1)" letter-spacing="-0.4" stroke="#1893d2" stroke-width="0.7">sei</text><rect x="12.4" y="-0.3" width="4" height="7.1" fill="#a3c644"/><rect x="14.5" y="7.6" width="2" height="2.1" fill="#1b7fc4"/></g>
<g transform="translate(397.00,381.00) scale(0.92)"><text x="0" y="9.6" font-size="13.5px" fill="#1893d2" transform="scale(0.78,1)" letter-spacing="-0.4" stroke="#1893d2" stroke-width="0.7">sei</text><rect x="12.4" y="-0.3" width="4" height="7.1" fill="#a3c644"/><rect x="14.5" y="7.6" width="2" height="2.1" fill="#1b7fc4"/></g>
<g transform="translate(571.30,381.00) scale(0.92)"><text x="0" y="9.6" font-size="13.5px" fill="#1893d2" transform="scale(0.78,1)" letter-spacing="-0.4" stroke="#1893d2" stroke-width="0.7">sei</text><rect x="12.4" y="-0.3" width="4" height="7.1" fill="#a3c644"/><rect x="14.5" y="7.6" width="2" height="2.1" fill="#1b7fc4"/></g>
<g transform="translate(722.60,381.00) scale(0.92)"><text x="0" y="9.6" font-size="13.5px" fill="#1893d2" transform="scale(0.78,1)" letter-spacing="-0.4" stroke="#1893d2" stroke-width="0.7">sei</text><rect x="12.4" y="-0.3" width="4" height="7.1" fill="#a3c644"/><rect x="14.5" y="7.6" width="2" height="2.1" fill="#1b7fc4"/></g>
<g transform="translate(277.80,547.60) scale(0.92)"><text x="0" y="9.6" font-size="13.5px" fill="#1893d2" transform="scale(0.78,1)" letter-spacing="-0.4" stroke="#1893d2" stroke-width="0.7">sei</text><rect x="12.4" y="-0.3" width="4" height="7.1" fill="#a3c644"/><rect x="14.5" y="7.6" width="2" height="2.1" fill="#1b7fc4"/></g>
<g transform="translate(565.00,479.20) scale(0.92)"><text x="0" y="9.6" font-size="13.5px" fill="#1893d2" transform="scale(0.78,1)" letter-spacing="-0.4" stroke="#1893d2" stroke-width="0.7">sei</text><rect x="12.4" y="-0.3" width="4" height="7.1" fill="#a3c644"/><rect x="14.5" y="7.6" width="2" height="2.1" fill="#1b7fc4"/></g>
<g transform="translate(565.00,549.80) scale(0.92)"><text x="0" y="9.6" font-size="13.5px" fill="#1893d2" transform="scale(0.78,1)" letter-spacing="-0.4" stroke="#1893d2" stroke-width="0.7">sei</text><rect x="12.4" y="-0.3" width="4" height="7.1" fill="#a3c644"/><rect x="14.5" y="7.6" width="2" height="2.1" fill="#1b7fc4"/></g>
<g transform="translate(565.00,619.30) scale(0.92)"><text x="0" y="9.6" font-size="13.5px" fill="#1893d2" transform="scale(0.78,1)" letter-spacing="-0.4" stroke="#1893d2" stroke-width="0.7">sei</text><rect x="12.4" y="-0.3" width="4" height="7.1" fill="#a3c644"/><rect x="14.5" y="7.6" width="2" height="2.1" fill="#1b7fc4"/></g>
<g transform="translate(691.00,549.60) scale(0.92)"><text x="0" y="9.6" font-size="13.5px" fill="#1893d2" transform="scale(0.78,1)" letter-spacing="-0.4" stroke="#1893d2" stroke-width="0.7">sei</text><rect x="12.4" y="-0.3" width="4" height="7.1" fill="#a3c644"/><rect x="14.5" y="7.6" width="2" height="2.1" fill="#1b7fc4"/></g>
<g transform="translate(263.70,817.80) scale(0.92)"><text x="0" y="9.6" font-size="13.5px" fill="#1893d2" transform="scale(0.78,1)" letter-spacing="-0.4" stroke="#1893d2" stroke-width="0.7">sei</text><rect x="12.4" y="-0.3" width="4" height="7.1" fill="#a3c644"/><rect x="14.5" y="7.6" width="2" height="2.1" fill="#1b7fc4"/></g>
<g transform="translate(456.80,767.10) scale(0.92)"><text x="0" y="9.6" font-size="13.5px" fill="#1893d2" transform="scale(0.78,1)" letter-spacing="-0.4" stroke="#1893d2" stroke-width="0.7">sei</text><rect x="12.4" y="-0.3" width="4" height="7.1" fill="#a3c644"/><rect x="14.5" y="7.6" width="2" height="2.1" fill="#1b7fc4"/></g>
<g transform="translate(484.50,879.20) scale(0.92)"><text x="0" y="9.6" font-size="13.5px" fill="#1893d2" transform="scale(0.78,1)" letter-spacing="-0.4" stroke="#1893d2" stroke-width="0.7">sei</text><rect x="12.4" y="-0.3" width="4" height="7.1" fill="#a3c644"/><rect x="14.5" y="7.6" width="2" height="2.1" fill="#1b7fc4"/></g>
<g transform="translate(570.20,931.20) scale(0.92)"><text x="0" y="9.6" font-size="13.5px" fill="#1893d2" transform="scale(0.78,1)" letter-spacing="-0.4" stroke="#1893d2" stroke-width="0.7">sei</text><rect x="12.4" y="-0.3" width="4" height="7.1" fill="#a3c644"/><rect x="14.5" y="7.6" width="2" height="2.1" fill="#1b7fc4"/></g>
<g transform="translate(751.50,931.20) scale(0.92)"><text x="0" y="9.6" font-size="13.5px" fill="#1893d2" transform="scale(0.78,1)" letter-spacing="-0.4" stroke="#1893d2" stroke-width="0.7">sei</text><rect x="12.4" y="-0.3" width="4" height="7.1" fill="#a3c644"/><rect x="14.5" y="7.6" width="2" height="2.1" fill="#1b7fc4"/></g>
<g transform="translate(360.50,1020.20) scale(0.92)"><text x="0" y="9.6" font-size="13.5px" fill="#1893d2" transform="scale(0.78,1)" letter-spacing="-0.4" stroke="#1893d2" stroke-width="0.7">sei</text><rect x="12.4" y="-0.3" width="4" height="7.1" fill="#a3c644"/><rect x="14.5" y="7.6" width="2" height="2.1" fill="#1b7fc4"/></g>
<g transform="translate(559.60,1020.20) scale(0.92)"><text x="0" y="9.6" font-size="13.5px" fill="#1893d2" transform="scale(0.78,1)" letter-spacing="-0.4" stroke="#1893d2" stroke-width="0.7">sei</text><rect x="12.4" y="-0.3" width="4" height="7.1" fill="#a3c644"/><rect x="14.5" y="7.6" width="2" height="2.1" fill="#1b7fc4"/></g>
<g transform="translate(734.80,1020.20) scale(0.92)"><text x="0" y="9.6" font-size="13.5px" fill="#1893d2" transform="scale(0.78,1)" letter-spacing="-0.4" stroke="#1893d2" stroke-width="0.7">sei</text><rect x="12.4" y="-0.3" width="4" height="7.1" fill="#a3c644"/><rect x="14.5" y="7.6" width="2" height="2.1" fill="#1b7fc4"/></g>
<g transform="translate(384.40,1107.30) scale(0.92)"><text x="0" y="9.6" font-size="13.5px" fill="#1893d2" transform="scale(0.78,1)" letter-spacing="-0.4" stroke="#1893d2" stroke-width="0.7">sei</text><rect x="12.4" y="-0.3" width="4" height="7.1" fill="#a3c644"/><rect x="14.5" y="7.6" width="2" height="2.1" fill="#1b7fc4"/></g>
<g transform="translate(595.20,1107.30) scale(0.92)"><text x="0" y="9.6" font-size="13.5px" fill="#1893d2" transform="scale(0.78,1)" letter-spacing="-0.4" stroke="#1893d2" stroke-width="0.7">sei</text><rect x="12.4" y="-0.3" width="4" height="7.1" fill="#a3c644"/><rect x="14.5" y="7.6" width="2" height="2.1" fill="#1b7fc4"/></g>
<g transform="translate(648.00,1173.60) scale(0.92)"><text x="0" y="9.6" font-size="13.5px" fill="#1893d2" transform="scale(0.78,1)" letter-spacing="-0.4" stroke="#1893d2" stroke-width="0.7">sei</text><rect x="12.4" y="-0.3" width="4" height="7.1" fill="#a3c644"/><rect x="14.5" y="7.6" width="2" height="2.1" fill="#1b7fc4"/></g>
<g transform="translate(175.20,1260.40) scale(0.92)"><text x="0" y="9.6" font-size="13.5px" fill="#1893d2" transform="scale(0.78,1)" letter-spacing="-0.4" stroke="#1893d2" stroke-width="0.7">sei</text><rect x="12.4" y="-0.3" width="4" height="7.1" fill="#a3c644"/><rect x="14.5" y="7.6" width="2" height="2.1" fill="#1b7fc4"/></g>
</g>
</svg>
</body>
</html>
